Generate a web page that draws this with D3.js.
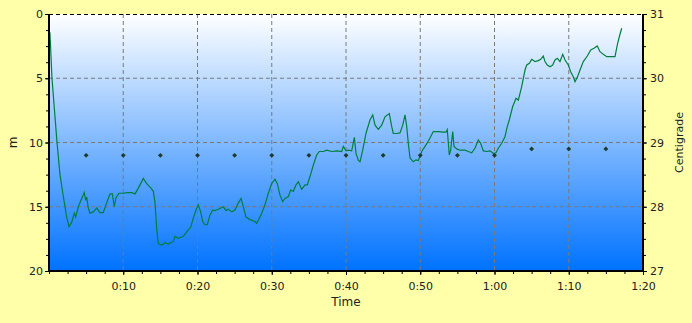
<!DOCTYPE html>
<html>
<head>
<meta charset="utf-8">
<script src="https://cdnjs.cloudflare.com/ajax/libs/d3/7.8.5/d3.min.js"></script>
<style>
body{margin:0;background:#ffffaa;}
#canvas{width:692px;height:323px;}
text{font-family:"DejaVu Sans",sans-serif;fill:#222;}
</style>
</head>
<body>
<div id="canvas" class="canvas"></div>
<script>
//---- ---- DATA ---- ----
var depthTime = [0,0.13,0.40,1.08,1.48,1.93,2.38,2.69,3.06,3.41,3.60,3.95,4.31,4.75,4.94,5.08,5.29,5.52,5.97,6.42,6.87,7.31,7.77,8.22,8.53,8.79,9.02,9.43,10.01,10.46,11.14,11.58,12.03,12.70,13.16,13.74,14.05,14.28,14.51,14.72,15.18,15.62,16.07,16.74,16.97,17.41,18.09,18.76,19.08,19.43,19.80,20.11,20.43,20.70,21.01,21.32,21.68,22.05,22.36,22.80,23.47,23.84,24.15,24.61,25.05,25.50,25.86,26.17,26.53,27.07,27.74,27.97,28.32,28.65,29.09,29.54,29.99,30.44,30.75,31.11,31.47,31.78,32.23,32.55,32.90,33.27,33.58,34.03,34.48,34.79,35.15,35.60,36.05,36.40,36.94,37.40,38.07,38.75,39.42,39.64,40.00,40.31,40.77,41.12,41.35,41.66,41.89,42.25,42.69,43.23,43.60,43.91,44.35,44.81,45.25,45.83,46.16,46.37,46.83,47.27,47.64,47.95,48.18,48.39,48.62,49.06,49.43,49.74,50.20,50.64,51.08,51.76,52.43,53.10,53.47,53.64,53.91,54.10,54.37,54.55,54.91,55.35,56.03,56.47,56.93,57.37,57.82,58.14,58.49,58.95,59.39,59.84,60.20,60.51,60.97,61.41,61.72,61.99,62.45,62.90,63.21,63.66,64.11,64.34,64.69,65.01,65.45,65.90,66.22,66.57,66.80,67.11,67.47,67.84,68.15,68.46,68.82,69.19,69.50,69.94,70.26,70.61,70.84,71.15,71.52,71.96,72.50,72.96,73.40,73.84,74.21,74.65,75.11,75.78,76.23,76.54,76.81,77.13];
var depthM = [1.3,1.5,5.0,10.0,12.5,14.2,15.8,16.55,16.2,15.5,15.8,15.0,14.5,13.9,14.5,14.25,15.1,15.5,15.4,15.1,15.45,15.45,14.7,14.0,14.0,15.0,14.3,13.95,13.95,13.9,13.9,14.0,13.55,12.8,13.2,13.55,13.8,14.7,16.8,17.85,18.0,17.8,17.9,17.7,17.3,17.45,17.3,16.8,16.6,15.9,15.25,14.85,15.4,16.15,16.4,16.4,15.65,15.25,15.3,15.2,15.0,15.3,15.2,15.4,15.25,14.7,14.35,15.0,15.8,16.0,16.15,16.3,15.9,15.5,14.85,13.95,13.2,12.85,13.2,14.1,14.6,14.35,14.2,13.7,13.8,13.3,13.05,13.65,13.3,13.3,12.65,11.75,10.97,10.7,10.7,10.6,10.7,10.65,10.7,10.3,10.65,10.6,10.65,9.6,10.85,11.4,11.5,10.6,9.3,8.25,7.85,8.65,8.97,8.65,8.0,7.75,8.77,9.3,9.3,9.25,8.65,7.85,8.77,10.06,11.2,11.5,11.35,11.4,10.7,10.3,9.9,9.15,9.15,9.2,9.2,9.0,10.97,10.6,9.15,10.3,10.5,10.6,10.6,10.7,10.8,10.45,9.8,10.06,10.65,10.7,10.65,10.85,10.8,10.45,10.06,9.55,8.77,8.25,7.2,6.56,6.7,5.65,4.36,3.97,3.84,3.53,3.7,3.63,3.53,3.27,3.7,3.97,4.1,3.97,3.58,3.45,3.7,3.14,3.58,3.97,4.49,4.88,5.27,4.93,4.36,3.7,3.27,2.8,2.67,2.49,2.93,3.14,3.32,3.32,3.32,2.41,1.77,1.11];

var tempTime = [5,10,15,20,25,30,35,40,45,50,55,60,65,70,75];
var tempC = [28.8,28.8,28.8,28.8,28.8,28.8,28.8,28.8,28.8,28.8,28.8,28.8,28.9,28.9,28.9];

var timeTicks = [10,20,30,40,50,60,70,80];
var depthTicks = [0,5,10,15,20];
var tempTicks = [27,28,29,30,31];

//---- ---- MARGIN CONVENTION ---- ----
var m = {t:14,r:49,b:52,l:49};
var outerWidth = 692, outerHeight = 323;
var w = outerWidth - m.l - m.r,
    h = outerHeight - m.t - m.b;

var svg = d3.select('.canvas')
    .append('svg')
    .attr('width',outerWidth)
    .attr('height',outerHeight);

var grad = svg.append('defs').append('linearGradient')
    .attr('id','bg').attr('x1',0).attr('y1',0).attr('x2',0).attr('y2',1);
grad.append('stop').attr('offset','0%').attr('stop-color','#ffffff');
grad.append('stop').attr('offset','100%').attr('stop-color','#0072ff');

var plot = svg.append('g')
    .attr('transform','translate(' + m.l + ',' + m.t + ')');

//---- ---- SCALES ---- ----
var scaleX = d3.scaleLinear().domain([0,80]).range([0,w]);
var scaleY = d3.scaleLinear().domain([0,20]).range([0,h]);
var scaleT = d3.scaleLinear().domain([27,31]).range([h,0]);

function fmtTime(t){ var mm = t % 60; return Math.floor(t/60) + ':' + (mm<10?'0':'') + mm; }

plot.append('rect').attr('width',w).attr('height',h).attr('fill','url(#bg)');

//---- ---- GRID ---- ----
plot.selectAll('.gx').data(timeTicks.slice(0,-1)).enter().append('line')
    .attr('x1',scaleX).attr('x2',scaleX).attr('y1',0).attr('y2',h)
    .attr('stroke','#7a7a7a').attr('stroke-dasharray','4,3');
plot.selectAll('.gy').data([5,10,15]).enter().append('line')
    .attr('y1',scaleY).attr('y2',scaleY).attr('x1',0).attr('x2',w)
    .attr('stroke','#7a7a7a').attr('stroke-dasharray','4,3');
plot.append('line').attr('x1',0).attr('x2',w).attr('y1',0.5).attr('y2',0.5)
    .attr('stroke','#000').attr('stroke-dasharray','4,3');

//---- ---- DEPTH LINE ---- ----
var depth = depthTime.map(function(t,i){ return {t:t, d:depthM[i]}; });
var line = d3.line()
    .x(function(d){ return scaleX(d.t); })
    .y(function(d){ return scaleY(d.d); });
plot.append('path').datum(depth)
    .attr('d',line).attr('fill','none')
    .attr('stroke','#007f3f').attr('stroke-width',1.2);

//---- ---- TEMPERATURE MARKERS ---- ----
var temp = tempTime.map(function(t,i){ return {t:t, c:tempC[i]}; });
plot.selectAll('.tm').data(temp).enter().append('path')
    .attr('d', d3.symbol(d3.symbolSquare, 12))
    .attr('transform',function(d){ return 'translate(' + scaleX(d.t) + ',' + scaleT(d.c) + ') rotate(45)'; })
    .attr('fill','#1e3a2c');

//---- ---- AXES ---- ----
function styleAxis(g){
    g.select('.domain').remove();
    g.selectAll('line').attr('stroke','#000');
    g.selectAll('text').style('font-size','11px').attr('fill','#222');
}

plot.append('g').attr('transform','translate(0,'+h+')')
    .call(d3.axisBottom(scaleX).tickValues(d3.range(0,80.1,2.5)).tickSize(3).tickFormat(''))
    .call(styleAxis);
plot.append('g').attr('transform','translate(0,'+h+')')
    .call(d3.axisBottom(scaleX).tickValues(timeTicks).tickSize(4).tickPadding(7).tickFormat(fmtTime))
    .call(styleAxis);

plot.append('g')
    .call(d3.axisLeft(scaleY).tickValues(d3.range(0,20.01,1.25)).tickSize(3).tickFormat(''))
    .call(styleAxis);
plot.append('g')
    .call(d3.axisLeft(scaleY).tickValues(depthTicks).tickSize(4).tickPadding(2).tickFormat(d3.format('d')))
    .call(styleAxis);

plot.append('g').attr('transform','translate('+w+',0)')
    .call(d3.axisRight(scaleT).tickValues(d3.range(27,31.01,0.25)).tickSize(3).tickFormat(''))
    .call(styleAxis);
plot.append('g').attr('transform','translate('+w+',0)')
    .call(d3.axisRight(scaleT).tickValues(tempTicks).tickSize(4).tickPadding(3).tickFormat(d3.format('d')))
    .call(styleAxis);

//---- ---- FRAME ---- ----
plot.append('path')
    .attr('d','M0,0 V' + h + ' H' + w + ' V0')
    .attr('fill','none').attr('stroke','#000').attr('stroke-width',2);

//---- ---- LABELS ---- ----
plot.append('text').attr('x',w/2).attr('y',h+35)
    .attr('text-anchor','middle').style('font-size','12px').attr('fill','#2a3a1a').text('Time');
svg.append('text')
    .attr('transform','translate(17,' + (m.t + h/2) + ') rotate(-90)')
    .attr('text-anchor','middle').style('font-size','12px').text('m');
svg.append('text')
    .attr('transform','translate(683,' + (m.t + h/2) + ') rotate(-90)')
    .attr('text-anchor','middle').style('font-size','11px').text('Centigrade');
</script>
</body>
</html>
